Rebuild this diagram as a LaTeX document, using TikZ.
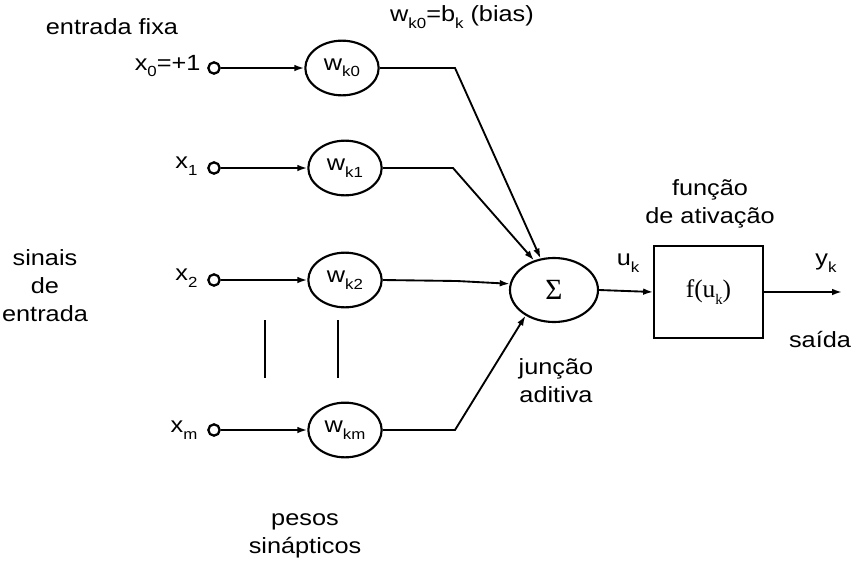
\documentclass[tikz,border=0pt]{standalone}
\usepackage{fontspec}
\setmainfont{Liberation Sans}[FakeStretch=1.15]
\newfontfamily\serifface{Liberation Serif}
\usetikzlibrary{shapes.geometric,arrows.meta}
% lowered small index, as in w_k0
\newcommand\sub[1]{\raisebox{-0.55ex}{\fontsize{11}{11}\selectfont #1}}

\begin{document}
\begin{tikzpicture}[x=0.75pt,y=-0.75pt,
  font=\fontsize{16.5}{21}\selectfont,
  every node/.style={inner sep=1pt},
  inp/.style={circle,draw,line width=1.7pt,minimum size=8.5pt,inner sep=0pt},
  weight/.style={ellipse,draw,line width=1.6pt,minimum width=55pt,minimum height=41pt,inner sep=0pt},
  sumnode/.style={ellipse,draw,line width=1.6pt,minimum width=66pt,minimum height=48pt,inner sep=0pt},
  actbox/.style={rectangle,draw,line width=1.5pt,minimum width=81.5pt,minimum height=69pt,inner sep=0pt},
  conn/.style={line width=1.4pt,-{Latex[length=7.5pt,width=5pt]}},
  lbl/.style={align=center}]
\useasboundingbox (0,0) rectangle (854,572);

% inputs
\node[inp] (x0) at (214,68) {};
\node[inp] (x1) at (214,168) {};
\node[inp] (x2) at (214,280) {};
\node[inp] (xm) at (214,430) {};

% synaptic weights
\node[weight] (w0) at (342,68) {w\sub{k0}};
\node[weight] (w1) at (345,168) {w\sub{k1}};
\node[weight] (w2) at (345,280) {w\sub{k2}};
\node[weight] (wm) at (345,430) {w\sub{km}};

% summing junction and activation function
\node[sumnode] (s) at (554,290) {\serifface\fontsize{22}{22}\selectfont Σ};
\node[actbox] (f) at (708.5,292) {\serifface\fontsize{19}{19}\selectfont f(u\sub{k})};

% input to weight
\draw[conn] (x0) -- (w0);
\draw[conn] (x1) -- (w1);
\draw[conn] (x2) -- (w2);
\draw[conn] (xm) -- (wm);

% weight to summing junction
\coordinate (b0) at (455,68);
\coordinate (b1) at (453,168);
\coordinate (b2) at (457,281);
\coordinate (bm) at (455,430);
\draw[conn] (w0.east) -- (b0) -- (s.113);
\draw[conn] (w1.east) -- (b1) -- (s.124);
\draw[conn] (w2.east) -- (b2) -- (s.172);
\draw[conn] (wm.east) -- (bm) -- (s.222);

% summing junction to activation, and output
\coordinate (yend) at (842,292);
\draw[conn] (s.east) -- (f.west);
\draw[conn] (f.east) -- (yend);

% ellipsis marks between x2 and xm
\draw[line width=0.9pt] (265,320) -- (265,378);
\draw[line width=0.9pt] (338,320) -- (338,378);

% labels
\node (lfix) at (112,27) {entrada fixa};
\node[anchor=east] (lx0) at (202,66) {x\sub{0}=+1};
\node[anchor=east] (lx1) at (199,166) {x\sub{1}};
\node[anchor=east] (lx2) at (199,278) {x\sub{2}};
\node[anchor=east] (lxm) at (199,430) {x\sub{m}};
\node (lbias) at (462,17) {w\sub{k0}=b\sub{k} (bias)};
\node[lbl] (lsin) at (45,286) {sinais\\de\\entrada};
\node[lbl] (lpes) at (305,536) {pesos\\sinápticos};
\node[lbl] (ljun) at (556,381) {junção\\aditiva};
\node[lbl] (lact) at (710,204) {função\\de ativação};
\node (lu) at (628,263) {u\sub{k}};
\node (ly) at (826,263) {y\sub{k}};
\node (lsai) at (820,340) {saída};
\end{tikzpicture}
\end{document}
